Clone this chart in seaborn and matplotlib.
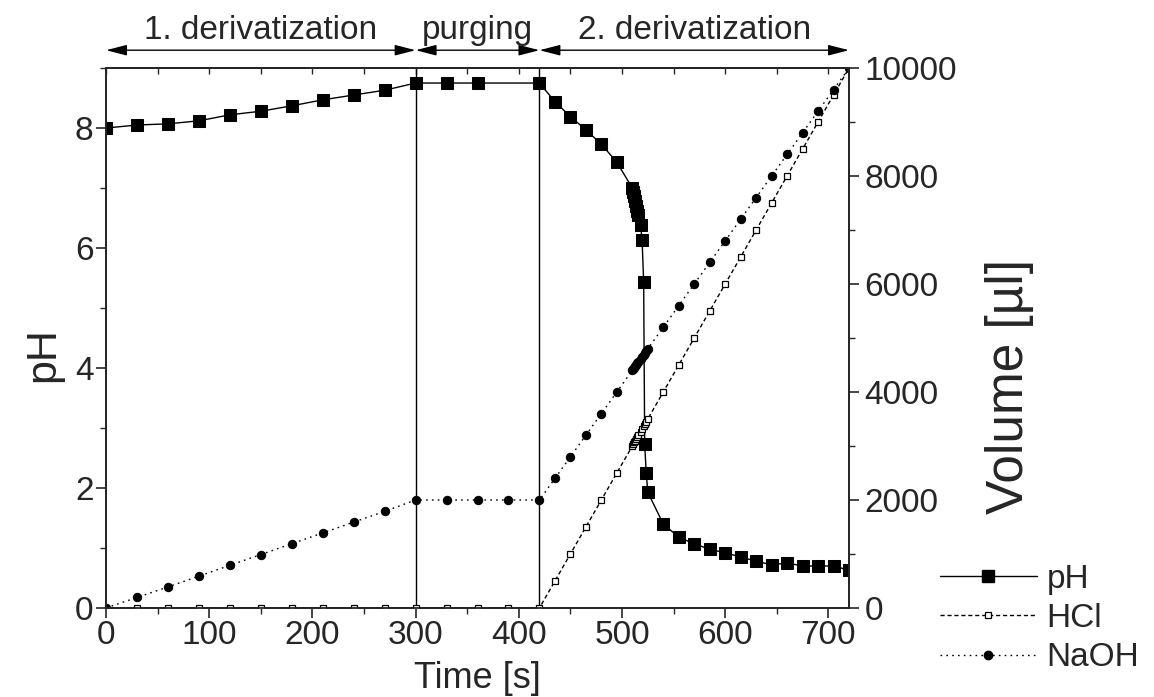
import matplotlib
matplotlib.use("Agg")
import matplotlib.pyplot as plt
import seaborn as sns
import pandas as pd
from matplotlib.lines import Line2D
from matplotlib.ticker import MultipleLocator

# pH of the sample over time
ph_time = [0, 30, 60, 90, 120, 150, 180, 210, 240, 270, 300, 330, 360, 420,
           435, 450, 465, 480, 495,
           510, 511, 512, 513, 514, 515, 516, 518, 519.5, 521,
           522, 523.5, 525,
           540, 555, 570, 585, 600, 615, 630, 645, 660, 675, 690, 705, 720]
ph_value = [8.00, 8.05, 8.07, 8.12, 8.22, 8.28, 8.37, 8.47, 8.55, 8.63, 8.75, 8.75, 8.75, 8.75,
            8.44, 8.19, 7.97, 7.73, 7.43,
            7.00, 6.93, 6.86, 6.78, 6.70, 6.62, 6.55, 6.38, 6.13, 5.44,
            2.73, 2.25, 1.93,
            1.40, 1.18, 1.07, 0.98, 0.92, 0.85, 0.78, 0.72, 0.75, 0.70, 0.70, 0.70, 0.63]

# dosed reagent volumes [µl]
vol_time = [0, 30, 60, 90, 120, 150, 180, 210, 240, 270, 300, 330, 360, 390, 420,
            435, 450, 465, 480, 495,
            510, 511, 512, 513, 514, 515, 516, 518, 519.5, 521,
            522, 523.5, 525,
            540, 555, 570, 585, 600, 615, 630, 645, 660, 675, 690, 705, 720]
hcl_volume = [0, 0, 0, 0, 0, 0, 0, 0, 0, 0, 0, 0, 0, 0, 0,
              500, 1000, 1500, 2000, 2500,
              3000, 3033, 3067, 3100, 3133, 3167, 3200, 3267, 3317, 3367,
              3400, 3450, 3500,
              4000, 4500, 5000, 5500, 6000, 6500, 7000, 7500, 8000, 8500, 9000, 9500, 10000]
naoh_volume = [0, 195, 390, 590, 790, 990, 1190, 1390, 1590, 1790, 2000, 2000, 2000, 2000, 2000,
               2400, 2800, 3200, 3600, 4000,
               4400, 4427, 4453, 4480, 4507, 4533, 4560, 4613, 4653, 4693,
               4720, 4760, 4800,
               5200, 5600, 6000, 6400, 6800, 7200, 7600, 8000, 8400, 8800, 9200, 9600, 10000]

# process phases (start, end, label)
phase_start = [0, 300, 420]
phase_end = [300, 420, 720]
phase_label = ["1. derivatization", "purging", "2. derivatization"]

sns.set_style("ticks")
plt.rcParams["font.family"] = ["Liberation Sans", "DejaVu Sans"]
plt.rcParams["axes.linewidth"] = 1.3

ph_df = pd.DataFrame({"t": ph_time, "pH": ph_value})
vol_df = pd.DataFrame({"t": vol_time, "HCl": hcl_volume, "NaOH": naoh_volume})

fig = plt.figure(figsize=(11.54, 6.97), dpi=100)
ax = fig.add_axes([0.0919, 0.1277, 0.6438, 0.7747])
ax2 = ax.twinx()

sns.lineplot(data=ph_df, x="t", y="pH", ax=ax, color="black", lw=1.0,
             marker="s", markersize=8, markeredgecolor="black", markerfacecolor="black",
             estimator=None, sort=False, zorder=3)
sns.lineplot(data=vol_df, x="t", y="HCl", ax=ax2, color="black", lw=1.0,
             linestyle=(0, (3, 2)),
             marker="s", markersize=5, markeredgecolor="black", markerfacecolor="white",
             markeredgewidth=0.9, estimator=None, sort=False)
sns.lineplot(data=vol_df, x="t", y="NaOH", ax=ax2, color="black", lw=1.0,
             linestyle=(0, (1.2, 3)),
             marker="o", markersize=6, markeredgecolor="black", markerfacecolor="black",
             estimator=None, sort=False)

for xb in phase_start[1:]:
    ax.axvline(xb, color="black", lw=1.0, zorder=2)

ax.set_xlim(0, 720)
ax.set_ylim(0, 9)
ax2.set_ylim(0, 10000)

ax.xaxis.set_major_locator(MultipleLocator(100))
ax.xaxis.set_minor_locator(MultipleLocator(50))
ax.yaxis.set_major_locator(MultipleLocator(2))
ax.yaxis.set_minor_locator(MultipleLocator(1))
ax2.yaxis.set_major_locator(MultipleLocator(2000))
ax2.yaxis.set_minor_locator(MultipleLocator(1000))

for a in (ax, ax2):
    a.tick_params(which="major", direction="out", length=7, width=1.2, labelsize=24)
    a.tick_params(which="minor", direction="out", length=4, width=1.0)
    for s in a.spines.values():
        s.set_visible(True)
        s.set_linewidth(1.3)
ax.tick_params(axis="both", pad=2)
ax2.tick_params(axis="y", pad=4)

top = ax.secondary_xaxis("top")
top.xaxis.set_major_locator(MultipleLocator(50))
top.tick_params(direction="in", length=4, width=1.0, labeltop=False)

ax.set_xlabel("Time [s]", fontsize=26)
ax.xaxis.set_label_coords(0.5, -0.098)
ax.set_ylabel("pH", fontsize=31)
ax.yaxis.set_label_coords(-0.058, 0.47)
ax2.set_ylabel("Volume [µl]", fontsize=37)
ax2.yaxis.set_label_coords(1.183, 0.41)

for x0, x1, lab in zip(phase_start, phase_end, phase_label):
    ax.annotate("", xy=(x0, 1.033), xytext=(x1, 1.033),
                xycoords=("data", "axes fraction"), textcoords=("data", "axes fraction"),
                arrowprops=dict(arrowstyle="<|-|>,head_length=0.7,head_width=0.18",
                                color="black", lw=1.0, shrinkA=0, shrinkB=0,
                                mutation_scale=18), annotation_clip=False)
    ax.text((x0 + x1) / 2, 1.04, lab, transform=ax.get_xaxis_transform(),
            ha="center", va="bottom", fontsize=24)

handles = [
    Line2D([], [], color="black", lw=1.0, marker="s", markersize=8,
           markerfacecolor="black", markeredgecolor="black"),
    Line2D([], [], color="black", lw=1.0, linestyle=(0, (3, 2)), marker="s", markersize=5,
           markerfacecolor="white", markeredgecolor="black", markeredgewidth=0.9),
    Line2D([], [], color="black", lw=1.0, linestyle=(0, (1.2, 3)), marker="o", markersize=6,
           markerfacecolor="black", markeredgecolor="black"),
]
fig.legend(handles, ["pH", "HCl", "NaOH"], loc="lower left",
           bbox_to_anchor=(0.803, 0.015), frameon=False, fontsize=24,
           handlelength=2.9, handletextpad=0.3, labelspacing=0.25, borderaxespad=0)

fig.savefig("out.png", dpi=100)
